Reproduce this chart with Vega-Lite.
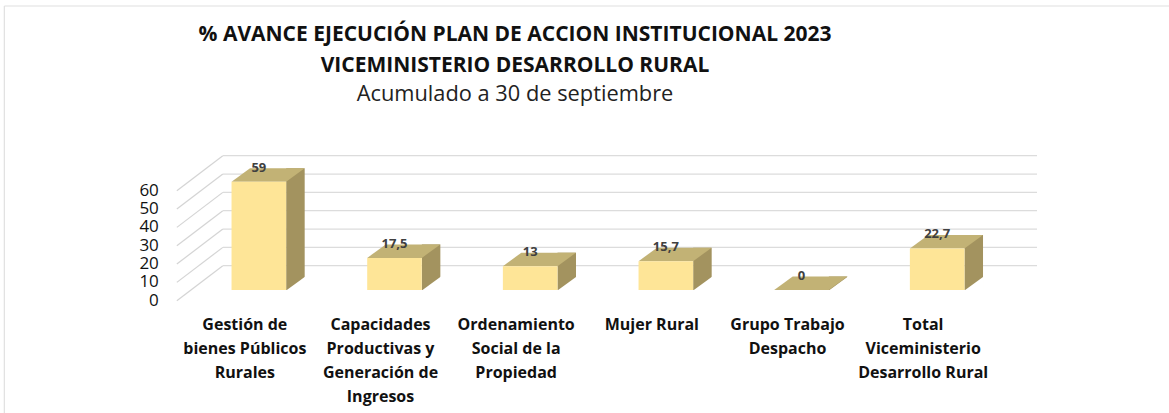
{
  "$schema": "https://vega.github.io/schema/vega-lite/v6.json",
  "width": 814,
  "height": 110,
  "autosize": {"type": "none"},
  "padding": {"left": 191, "top": 190.7, "right": 164, "bottom": 112.3},
  "background": "white",
  "config": {
    "view": {"stroke": null},
    "locale": {"number": {"decimal": ",", "thousands": ".", "grouping": [3], "currency": ["$", ""]}}
  },
  "title": {
    "text": ["% AVANCE EJECUCIÓN PLAN DE ACCION INSTITUCIONAL 2023", "VICEMINISTERIO DESARROLLO RURAL"],
    "subtitle": "Acumulado a 30 de septiembre",
    "anchor": "middle",
    "frame": "group",
    "dx": -83,
    "offset": -102,
    "font": "Open Sans",
    "fontSize": 21,
    "fontWeight": "bold",
    "color": "#111111",
    "lineHeight": 30.5,
    "subtitleFont": "Open Sans",
    "subtitleFontSize": 21.8,
    "subtitleColor": "#222222",
    "subtitlePadding": 8
  },
  "datasets": {
    "barras": [
      {"categoria": "Gestión de bienes Públicos Rurales", "avance": 59},
      {"categoria": "Capacidades Productivas y Generación de Ingresos", "avance": 17.5},
      {"categoria": "Ordenamiento Social de la Propiedad", "avance": 13},
      {"categoria": "Mujer Rural", "avance": 15.7},
      {"categoria": "Grupo Trabajo Despacho", "avance": 0},
      {"categoria": "Total Viceministerio Desarrollo Rural", "avance": 22.7}
    ],
    "marcas": [
      {"marca": 0}, {"marca": 10}, {"marca": 20}, {"marca": 30}, {"marca": 40}, {"marca": 50}, {"marca": 60}
    ]
  },
  "encoding": {
    "x": {
      "field": "categoria",
      "type": "nominal",
      "sort": null,
      "title": null,
      "scale": {
        "domain": ["Gestión de bienes Públicos Rurales", "Capacidades Productivas y Generación de Ingresos", "Ordenamiento Social de la Propiedad", "Mujer Rural", "Grupo Trabajo Despacho", "Total Viceministerio Desarrollo Rural"],
        "type": "band", "paddingInner": 0, "paddingOuter": 0
      },
      "axis": {
        "domain": false, "ticks": false, "grid": false, "labelAngle": 0, "labelOffset": -14,
        "labelPadding": 16, "labelFont": "Open Sans", "labelFontSize": 16, "labelFontWeight": "bold",
        "labelColor": "#111111", "labelLimit": 0, "labelLineHeight": 24, "labelAlign": "center", "labelBaseline": "top",
        "labelExpr": "{'Gestión de bienes Públicos Rurales':['Gestión de','bienes Públicos','Rurales'],'Capacidades Productivas y Generación de Ingresos':['Capacidades','Productivas y','Generación de','Ingresos'],'Ordenamiento Social de la Propiedad':['Ordenamiento','Social de la','Propiedad'],'Mujer Rural':['Mujer Rural'],'Grupo Trabajo Despacho':['Grupo Trabajo','Despacho'],'Total Viceministerio Desarrollo Rural':['Total','Viceministerio','Desarrollo Rural']}[datum.label]"
      }
    }
  },
  "layer": [
    {
      "data": {"name": "marcas"},
      "mark": {"type": "rule", "stroke": "#dcdcdc", "strokeWidth": 1.2, "xOffset": 32, "x2Offset": 32, "yOffset": -35},
      "encoding": {
        "x": {"value": 0},
        "x2": {"value": 814},
        "y": {
          "field": "marca", "type": "quantitative", "title": null,
          "scale": {"domain": [0, 60], "nice": false},
          "axis": null
        }
      }
    },
    {
      "data": {"name": "marcas"},
      "mark": {"type": "point", "filled": false, "size": 4, "stroke": "#d4d4d4", "strokeWidth": 1.2, "opacity": 1, "shape": "M-82,0 L-36,-35"},
      "encoding": {
        "x": {"datum": "Gestión de bienes Públicos Rurales"},
        "y": {"field": "marca", "type": "quantitative"}
      }
    },
    {
      "data": {"name": "marcas"},
      "mark": {"type": "text", "font": "Open Sans", "fontSize": 17, "color": "#111111", "align": "right", "baseline": "middle", "dx": -100},
      "encoding": {
        "x": {"datum": "Gestión de bienes Públicos Rurales"},
        "y": {"field": "marca", "type": "quantitative"},
        "text": {"field": "marca", "type": "quantitative"}
      }
    },
    {
      "data": {"name": "barras"},
      "mark": {"type": "bar", "width": 18.5, "xOffset": 36.6, "yOffset": -24.2, "y2Offset": -10.7, "color": "#A3935F"},
      "encoding": {
        "y": {"field": "avance", "type": "quantitative", "stack": null},
        "y2": {"datum": 0}
      }
    },
    {
      "data": {"name": "barras"},
      "mark": {"type": "point", "filled": true, "size": 4, "opacity": 1, "color": "white", "yOffset": -10.7, "shape": "M27.3,0.5 L46.5,0.5 L46.5,-13.5 Z"},
      "encoding": {
        "y": {"datum": 0}
      }
    },
    {
      "data": {"name": "barras"},
      "mark": {"type": "point", "filled": true, "size": 4, "opacity": 1, "color": "#C2B275", "yOffset": -10.7, "shape": "M-27.3,0 L27.3,0 L45.8,-13.5 L-8.8,-13.5 Z"},
      "encoding": {
        "y": {"field": "avance", "type": "quantitative"}
      }
    },
    {
      "data": {"name": "barras"},
      "mark": {"type": "bar", "width": 54.6, "yOffset": -10.7, "y2Offset": -10.7, "color": "#FEE597"},
      "encoding": {
        "y": {"field": "avance", "type": "quantitative", "stack": null},
        "y2": {"datum": 0}
      }
    },
    {
      "data": {"name": "barras"},
      "mark": {"type": "text", "font": "Open Sans", "fontSize": 13, "fontWeight": "bold", "color": "#404040", "baseline": "middle", "align": "center", "yOffset": -25},
      "encoding": {
        "y": {"field": "avance", "type": "quantitative"},
        "text": {"field": "avance", "type": "quantitative", "format": "~g"}
      }
    },
    {
      "data": {"name": "marcas"},
      "transform": [{"filter": "datum.marca === 60"}],
      "mark": {"type": "point", "filled": false, "size": 4, "stroke": "#e0e0e0", "strokeWidth": 1.2, "opacity": 1, "shape": "M-254.5,-184.7 V223 M-254.5,-184.7 H911"},
      "encoding": {
        "x": {"datum": "Gestión de bienes Públicos Rurales"},
        "y": {"field": "marca", "type": "quantitative"}
      }
    }
  ]
}
